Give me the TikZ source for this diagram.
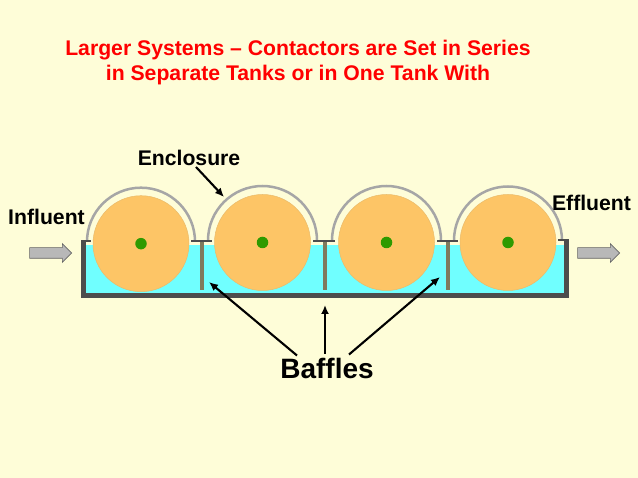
\documentclass[tikz,border=0pt]{standalone}
\usepackage{fontspec}
\setmainfont{Liberation Sans}
\usepackage{tikz}
\usetikzlibrary{calc,positioning,arrows.meta,shapes.arrows}
\definecolor{paper}{HTML}{FEFDD8}
\definecolor{water}{HTML}{70FFFF}
\definecolor{disc}{HTML}{FDC566}
\definecolor{hubgreen}{HTML}{2F9A00}
\definecolor{tankgray}{HTML}{4D4D4D}
\definecolor{baffle}{HTML}{7F7A5C}
\tikzset{line/.style={draw, line width=2.1pt, -{Latex[length=9pt,width=8pt]}}}

\begin{document}
\begin{tikzpicture}[x=1pt,y=1pt]
\tikzstyle{wheel} = [circle, draw=disc!85!gray, fill=disc, line width=0.5pt, minimum size=96pt, inner sep=0pt]
\tikzstyle{hub} = [circle, fill=hubgreen, minimum size=11.5pt, inner sep=0pt]
\tikzstyle{label} = [font=\bfseries\fontsize{21.2}{21.2}\selectfont, inner sep=0pt]
\tikzstyle{flow} = [single arrow, draw=black!60, fill=black!28, line width=0.6pt, minimum height=42pt, single arrow head extend=4pt, inner sep=5pt]
\tikzstyle{enclosure} = [draw=black!35, line width=2.5pt]
\tikzstyle{flange} = [draw=tankgray, line width=2pt]
\tikzstyle{wall} = [draw=tankgray, line width=5pt]
\tikzstyle{bafflebar} = [draw=baffle, line width=3.5pt]

\useasboundingbox [fill=paper] (0,0) rectangle (638,478);
% title
    \node [text=red, align=center, font=\bfseries\fontsize{21.2}{25}\selectfont] (title) at (298,415) {Larger Systems -- Contactors are Set in Series\\in Separate Tanks or in One Tank With};
% tank
    \fill [water] (86,185) rectangle (565,233);
    \coordinate (corner left) at (83.5,182.5);
    \coordinate (corner right) at (566.8,182.5);
    \path [wall] (83.5,237) -- (corner left) -- (corner right) -- (566.8,239);
% wheels
    \node [wheel] (wheel1) at (141,234.3){};
    \node [wheel] (wheel2) at (262.5,235.5){};
    \node [wheel] (wheel3) at (386.5,235.5){};
    \node [wheel] (wheel4) at (508,235.5){};
    \node [hub] (hub1) at (wheel1){};
    \node [hub] (hub2) at (wheel2){};
    \node [hub] (hub3) at (wheel3){};
    \node [hub] (hub4) at (wheel4){};
% enclosures
    \path [enclosure] ($(wheel1)+(-54,2)$) arc (180:0:54);
    \path [enclosure] ($(wheel2)+(-54.5,2)$) arc (180:0:54.5);
    \path [enclosure] ($(wheel3)+(-54.5,2)$) arc (180:0:54.5);
    \path [enclosure] ($(wheel4)+(-54,2)$) arc (180:0:54);
% flanges
    \path [flange] (81,236.5) -- (91,236.5);
    \path [flange] (191,237.3) -- (212,237.3);
    \path [flange] (313,237.3) -- (335,237.3);
    \path [flange] (437,237.3) -- (458,237.3);
    \path [flange] (558,237.7) -- (569,237.7);
% baffles
    \coordinate (baffle1 top) at (202,236);
    \coordinate (baffle2 top) at (325,236);
    \coordinate (baffle3 top) at (448,236);
    \path [bafflebar] (baffle1 top) -- (202,188);
    \path [bafflebar] (baffle2 top) -- (325,188);
    \path [bafflebar] (baffle3 top) -- (448,188);
% labels
    \node [label] (enclosure text) at (189,320) {Enclosure};
    \node [label] (influent) at (46.5,261) {Influent};
    \node [label] (effluent) at (591.5,275) {Effluent};
    \node [label, font=\bfseries\fontsize{28}{28}\selectfont] (baffles) at (327,109) {Baffles};
    \node [flow] (flow in) at (48,225){};
    \node [flow] (flow out) at (596,225){};
% arrows
    \coordinate (enclosure tip) at (224,281);
    \coordinate (baffle1 tip) at (209,196);
    \coordinate (baffle2 tip) at (325,173);
    \coordinate (baffle3 tip) at (440,201);
    \path [line] ($(enclosure text.south)+(7,-1)$) -- (enclosure tip);
    \path [line] ($(baffles.north)+(-30,3)$) -- (baffle1 tip);
    \path [line] ($(baffles.north)+(-2,5)$) -- (baffle2 tip);
    \path [line] ($(baffles.north)+(22,4)$) -- (baffle3 tip);
\end{tikzpicture}
\end{document}
